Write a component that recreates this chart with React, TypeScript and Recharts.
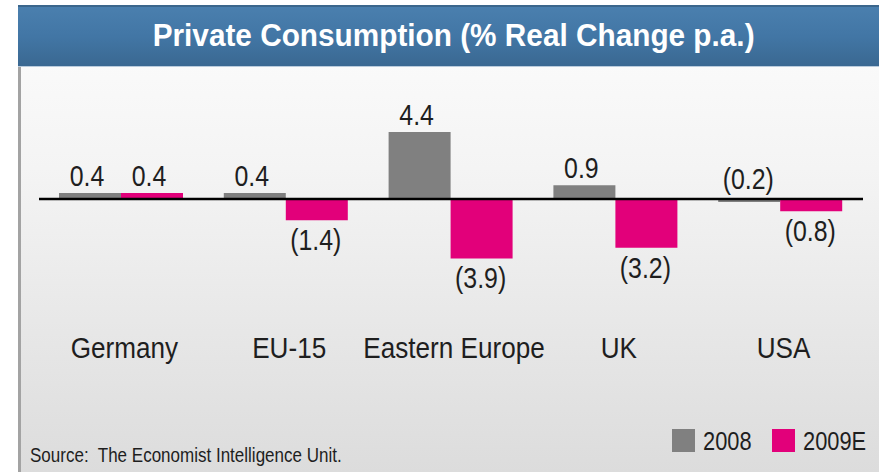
import { BarChart, Bar, XAxis, YAxis, ReferenceLine, LabelList } from "recharts";

const categories = ["Germany", "EU-15", "Eastern Europe", "UK", "USA"];
const values2008 = [0.4, 0.4, 4.4, 0.9, -0.2];
const values2009 = [0.4, -1.4, -3.9, -3.2, -0.8];
const seriesNames = ["2008", "2009E"];
const seriesColors = ["#808080", "#e2007a"];

const data = categories.map((name, i) => ({
  name,
  y2008: values2008[i],
  y2009: values2009[i],
}));

// no narrow face installed, so squeeze Liberation Sans horizontally
const FONT = "'Liberation Sans', Arial, sans-serif";
const TEXT = "#1e1e1e";

const fmt = (v: number) => (v < 0 ? `(${Math.abs(v).toFixed(1)})` : v.toFixed(1));

// positives sit above the bar, negatives below (tiny negatives stay above the axis)
function ValueLabel(props: any) {
  const { x, y, width, height, value } = props;
  const top = Math.min(y, y + height);
  const bottom = Math.max(y, y + height);
  const cx = x + width / 2;
  let ty: number;
  if (value >= 0) ty = top - 7;
  else if (value > -0.5) ty = top - 10;
  else ty = bottom + 30;
  const tx = value >= 0 ? cx - 3 : cx - 1;
  return (
    <text
      transform={`translate(${tx} ${ty}) scale(0.83 1)`}
      textAnchor="middle"
      fontFamily={FONT}
      fontSize={30}
      fill={TEXT}
    >
      {fmt(value)}
    </text>
  );
}

function CategoryTick(props: any) {
  const { x, y, payload } = props;
  return (
    <text
      transform={`translate(${x + 3} ${y + 29}) scale(0.87 1)`}
      textAnchor="middle"
      fontFamily={FONT}
      fontSize={30}
      fill={TEXT}
    >
      {payload.value}
    </text>
  );
}

const narrow = (sx: number, origin = "left"): React.CSSProperties => ({
  display: "inline-block",
  transform: `scaleX(${sx})`,
  transformOrigin: origin,
  whiteSpace: "pre",
});

const legendX = [672, 772];

export default function App() {
  return (
    <div
      style={{
        position: "absolute",
        left: 0,
        top: 0,
        width: 879,
        height: 472,
        background: "#ffffff",
        overflow: "hidden",
        fontFamily: FONT,
      }}
    >
      {/* panel */}
      <div
        style={{
          position: "absolute",
          left: 18,
          top: 5,
          width: 861,
          height: 467,
          background: "linear-gradient(#fdfdfd 0%, #f4f4f4 35%, #dcdcdc 100%)",
          borderLeft: "3px solid #a3a3a3",
          boxSizing: "border-box",
        }}
      />
      {/* title bar */}
      <div
        style={{
          position: "absolute",
          left: 18,
          top: 5,
          width: 861,
          height: 62,
          background: "linear-gradient(#4a7fae 0%, #4276a5 50%, #3a6891 100%)",
          borderTop: "2px solid #3b668c",
          borderBottom: "1px solid #b9cbdc",
          boxSizing: "border-box",
        }}
      />
      <div
        style={{
          position: "absolute",
          left: 28,
          top: 7,
          width: 851,
          textAlign: "center",
          color: "#ffffff",
          fontWeight: "bold",
          fontSize: 32,
          lineHeight: "56px",
        }}
      >
        <span style={narrow(0.93, "center")}>Private Consumption (% Real Change p.a.)</span>
      </div>

      <div style={{ position: "absolute", left: 0, top: 0 }}>
        <BarChart
          width={879}
          height={472}
          data={data}
          margin={{ top: 122.75, right: 16, bottom: 111, left: 39 }}
          barGap={0}
          barSize={62}
        >
          <XAxis
            dataKey="name"
            height={40}
            axisLine={false}
            tickLine={false}
            interval={0}
            tick={<CategoryTick />}
          />
          <YAxis hide domain={[-8, 5]} allowDataOverflow />
          <ReferenceLine y={0} stroke="#000000" strokeWidth={2.5} />
          <Bar dataKey="y2008" name={seriesNames[0]} fill={seriesColors[0]} isAnimationActive={false}>
            <LabelList dataKey="y2008" content={<ValueLabel />} />
          </Bar>
          <Bar dataKey="y2009" name={seriesNames[1]} fill={seriesColors[1]} isAnimationActive={false}>
            <LabelList dataKey="y2009" content={<ValueLabel />} />
          </Bar>
        </BarChart>
      </div>

      {/* source */}
      <div
        style={{
          position: "absolute",
          left: 30,
          top: 443,
          fontSize: 21,
          color: TEXT,
          lineHeight: "24px",
        }}
      >
        <span style={narrow(0.81)}>Source:  The Economist Intelligence Unit.</span>
      </div>

      {/* legend */}
      {seriesNames.map((n, i) => (
        <div key={n}>
          <div
            style={{
              position: "absolute",
              left: legendX[i],
              top: 429,
              width: 23,
              height: 23,
              background: seriesColors[i],
            }}
          />
          <div
            style={{
              position: "absolute",
              left: legendX[i] + 31,
              top: 426,
              fontSize: 26,
              lineHeight: "30px",
              color: TEXT,
            }}
          >
            <span style={narrow(0.84)}>{n}</span>
          </div>
        </div>
      ))}
    </div>
  );
}
